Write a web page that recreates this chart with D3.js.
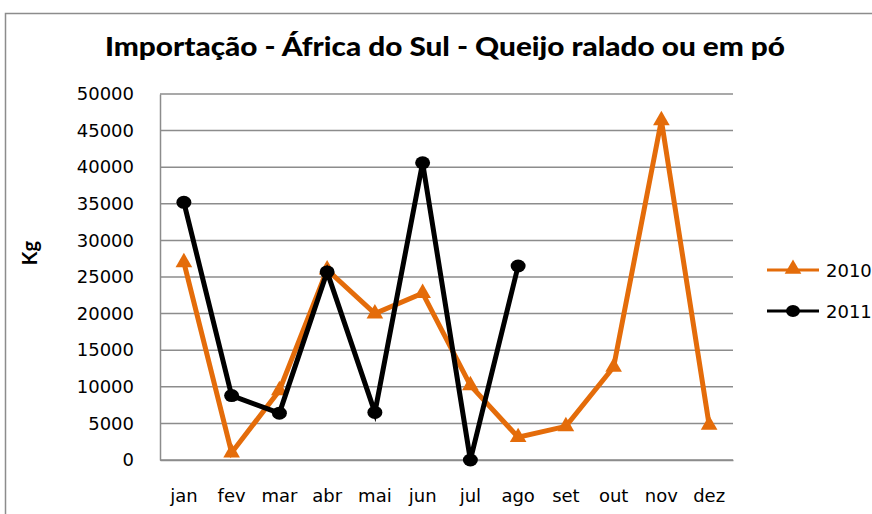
<!DOCTYPE html>
<html>
<head>
<meta charset="utf-8">
<script src="https://cdn.jsdelivr.net/npm/d3@7"></script>
<style>
  body { margin: 0; background: #fff; }
  svg { display: block; }
</style>
</head>
<body>
<svg id="chart" width="872" height="514"></svg>
<script>
// data
const months = ["jan", "fev", "mar", "abr", "mai", "jun", "jul", "ago", "set", "out", "nov", "dez"];
const yTicks = [0, 5000, 10000, 15000, 20000, 25000, 30000, 35000, 40000, 45000, 50000];
const values2010 = [27000, 1000, 9500, 26000, 20000, 22800, 10200, 3100, 4600, 12700, 46400, 4800];
const values2011 = [35200, 8800, 6400, 25700, 6500, 40600, 0, 26500];

const seriesList = [
  { name: "2010", values: values2010, color: "#E46C0A", marker: "triangle" },
  { name: "2011", values: values2011, color: "#000000", marker: "circle" }
];

const svg = d3.select("#chart");
const margin = { left: 160, top: 94, right: 139, bottom: 54 };
const W = 872, H = 514;

// outer chart border (goes past the right and bottom edges)
svg.append("rect")
  .attr("x", 5.5).attr("y", 13.5)
  .attr("width", 900).attr("height", 600)
  .attr("fill", "none")
  .attr("stroke", "#8c8c8c")
  .attr("stroke-width", 1.5);

const x = d3.scaleBand()
  .domain(months)
  .range([margin.left, W - margin.right]);

const y = d3.scaleLinear()
  .domain([0, 50000])
  .range([H - margin.bottom, margin.top]);

// title
svg.append("text")
  .attr("x", 445).attr("y", 56)
  .attr("text-anchor", "middle")
  .attr("font-family", "Lato, 'Open Sans', sans-serif")
  .attr("font-weight", "900")
  .attr("font-size", 26)
  .attr("textLength", 680)
  .attr("lengthAdjust", "spacingAndGlyphs")
  .attr("fill", "#000")
  .text("Importação - África do Sul - Queijo ralado ou em pó");

// gridlines
svg.append("g")
  .selectAll("line")
  .data(yTicks)
  .join("line")
  .attr("x1", margin.left).attr("x2", W - margin.right)
  .attr("y1", d => y(d)).attr("y2", d => y(d))
  .attr("stroke", "#8c8c8c")
  .attr("stroke-width", 1.5);

// y axis
const yAxis = svg.append("g")
  .attr("transform", `translate(${margin.left},0)`)
  .call(d3.axisLeft(y).tickValues(yTicks).tickFormat(d3.format("d")).tickSize(0).tickPadding(26));
yAxis.select(".domain").attr("stroke", "#8c8c8c").attr("stroke-width", 1.5);
yAxis.selectAll("text")
  .attr("font-family", "'DejaVu Sans', Verdana, sans-serif")
  .attr("font-size", 18)
  .attr("fill", "#000");

// x axis
const xAxis = svg.append("g")
  .attr("transform", `translate(0,${H - margin.bottom})`)
  .call(d3.axisBottom(x).tickSize(0).tickPadding(29));
xAxis.select(".domain").attr("stroke", "#8c8c8c").attr("stroke-width", 1.5);
xAxis.selectAll("text")
  .attr("font-family", "'DejaVu Sans', Verdana, sans-serif")
  .attr("font-size", 18)
  .attr("fill", "#000");

// y label
svg.append("text")
  .attr("transform", "translate(37,253) rotate(-90)")
  .attr("text-anchor", "middle")
  .attr("font-family", "Lato, sans-serif")
  .attr("font-weight", "bold")
  .attr("font-size", 20)
  .attr("fill", "#000")
  .text("Kg");

const cx = (d, i) => x(months[i]) + x.bandwidth() / 2;
const line = d3.line().x((d, i) => cx(d, i)).y(d => y(d));
const triangle = d3.symbol().type(d3.symbolTriangle).size(120);

seriesList.forEach(s => {
  const g = svg.append("g");
  g.append("path")
    .attr("d", line(s.values))
    .attr("fill", "none")
    .attr("stroke", s.color)
    .attr("stroke-width", 5)
    .attr("stroke-linejoin", "miter");
  if (s.marker === "triangle") {
    g.selectAll("path.mk")
      .data(s.values)
      .join("path")
      .classed("mk", true)
      .attr("d", triangle)
      .attr("transform", (d, i) => `translate(${cx(d, i)},${y(d)})`)
      .attr("fill", s.color);
  } else {
    g.selectAll("ellipse")
      .data(s.values)
      .join("ellipse")
      .attr("cx", (d, i) => cx(d, i))
      .attr("cy", d => y(d))
      .attr("rx", 7.5).attr("ry", 6.5)
      .attr("fill", s.color);
  }
});

// legend
const legend = svg.append("g");
seriesList.forEach((s, i) => {
  const ly = 270 + i * 41;
  legend.append("line")
    .attr("x1", 767).attr("x2", 819)
    .attr("y1", ly).attr("y2", ly)
    .attr("stroke", s.color)
    .attr("stroke-width", 3);
  if (s.marker === "triangle") {
    legend.append("path")
      .attr("d", triangle)
      .attr("transform", `translate(793,${ly - 1})`)
      .attr("fill", s.color);
  } else {
    legend.append("ellipse")
      .attr("cx", 793).attr("cy", ly)
      .attr("rx", 7).attr("ry", 6)
      .attr("fill", s.color);
  }
  legend.append("text")
    .attr("x", 826).attr("y", ly + 6.5)
    .attr("font-family", "'DejaVu Sans', Verdana, sans-serif")
    .attr("font-size", 18)
    .attr("fill", "#000")
    .text(s.name);
});
</script>
</body>
</html>
